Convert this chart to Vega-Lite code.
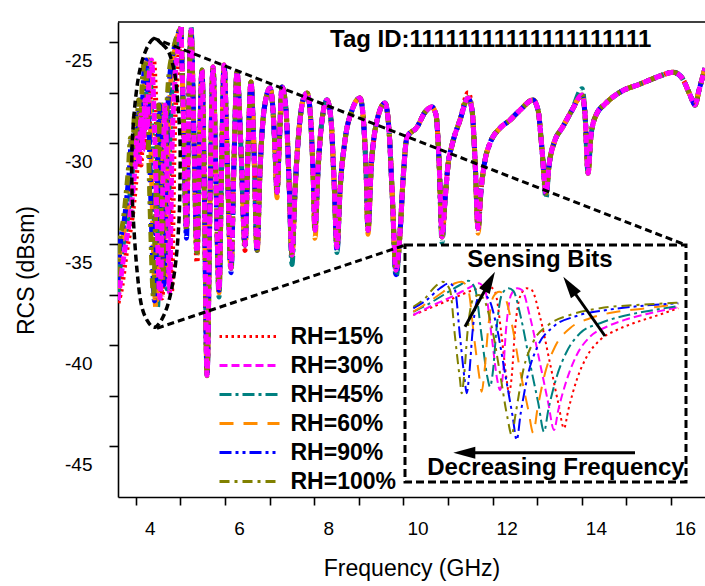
{
"$schema": "https://vega.github.io/schema/vega-lite/v6.json",
"width": 587, "height": 475,
"autosize": {"type": "none"},
"padding": {"left": 118, "top": 22, "right": 0, "bottom": 89},
"background": "white",
"config": {
 "view": {"stroke": null},
 "axis": {"grid": false, "domainColor": "#000", "domainWidth": 1.6, "tickColor": "#000", "tickWidth": 1.6, "labelColor": "#000", "labelFont": "Liberation Sans", "labelFontSize": 19, "titleFont": "Liberation Sans", "titleFontSize": 23, "titleFontWeight": "normal", "titleColor": "#000", "labelOverlap": false, "labelFlush": false},
 "axisX": {"tickSize": 8, "labelPadding": 14, "labelOffset": 14, "titleY": 60},
 "axisY": {"tickSize": 9, "labelPadding": 17, "labelOffset": 18, "titleX": -80, "titleY": 248},
 "legend": {"orient": "none", "legendX": 120, "legendY": 303, "direction": "vertical", "padding": 0, "symbolType": "M-5,0H5", "symbolSize": 144, "symbolStrokeWidth": 3, "labelFont": "Liberation Sans", "labelFontSize": 23, "labelFontWeight": "bold", "labelColor": "#000", "labelOffset": 29.5, "rowPadding": 5, "labelLimit": 0}
},
"datasets": {
 "ell": [
  {"s":"15","f":3.600,"r":-37.90},{"s":"15","f":3.690,"r":-37.02},{"s":"15","f":3.757,"r":-35.88},{"s":"15","f":3.824,"r":-34.89},{"s":"15","f":3.892,"r":-34.05},{"s":"15","f":3.936,"r":-33.31},{"s":"15","f":3.981,"r":-32.32},{"s":"15","f":4.026,"r":-31.23},{"s":"15","f":4.071,"r":-29.74},{"s":"15","f":4.116,"r":-31.08},{"s":"15","f":4.161,"r":-28.60},{"s":"15","f":4.206,"r":-30.34},{"s":"15","f":4.250,"r":-27.86},{"s":"15","f":4.295,"r":-29.35},{"s":"15","f":4.340,"r":-26.77},{"s":"15","f":4.396,"r":-25.88},{"s":"15","f":4.452,"r":-28.36},{"s":"15","f":4.519,"r":-33.80},{"s":"15","f":4.587,"r":-37.66},{"s":"15","f":4.643,"r":-32.81},{"s":"15","f":4.699,"r":-28.11},{"s":"15","f":4.755,"r":-32.81},{"s":"15","f":4.800,"r":-37.37},{"s":"15","f":4.856,"r":-30.34},{"s":"15","f":4.923,"r":-26.87},{"s":"15","f":4.975,"r":-25.29},{"s":"15","f":5.013,"r":-24.25},
  {"s":"30","f":3.600,"r":-37.76},{"s":"30","f":3.645,"r":-37.02},{"s":"30","f":3.712,"r":-35.88},{"s":"30","f":3.779,"r":-34.89},{"s":"30","f":3.847,"r":-34.05},{"s":"30","f":3.891,"r":-33.31},{"s":"30","f":3.936,"r":-32.32},{"s":"30","f":3.981,"r":-31.23},{"s":"30","f":4.026,"r":-29.74},{"s":"30","f":4.071,"r":-31.08},{"s":"30","f":4.116,"r":-28.60},{"s":"30","f":4.161,"r":-30.34},{"s":"30","f":4.205,"r":-27.86},{"s":"30","f":4.250,"r":-29.35},{"s":"30","f":4.295,"r":-26.77},{"s":"30","f":4.351,"r":-25.88},{"s":"30","f":4.407,"r":-28.36},{"s":"30","f":4.474,"r":-33.80},{"s":"30","f":4.542,"r":-37.66},{"s":"30","f":4.598,"r":-32.81},{"s":"30","f":4.654,"r":-28.11},{"s":"30","f":4.710,"r":-32.81},{"s":"30","f":4.755,"r":-37.37},{"s":"30","f":4.811,"r":-30.34},{"s":"30","f":4.878,"r":-26.87},{"s":"30","f":4.945,"r":-25.29},{"s":"30","f":5.013,"r":-24.25},
  {"s":"45","f":3.600,"r":-37.40},{"s":"45","f":3.656,"r":-35.88},{"s":"45","f":3.723,"r":-34.89},{"s":"45","f":3.791,"r":-34.05},{"s":"45","f":3.835,"r":-33.31},{"s":"45","f":3.880,"r":-32.32},{"s":"45","f":3.925,"r":-31.23},{"s":"45","f":3.970,"r":-29.74},{"s":"45","f":4.015,"r":-31.08},{"s":"45","f":4.060,"r":-28.60},{"s":"45","f":4.105,"r":-30.34},{"s":"45","f":4.149,"r":-27.86},{"s":"45","f":4.194,"r":-29.35},{"s":"45","f":4.239,"r":-26.77},{"s":"45","f":4.295,"r":-25.88},{"s":"45","f":4.351,"r":-28.36},{"s":"45","f":4.418,"r":-34.20},{"s":"45","f":4.486,"r":-38.10},{"s":"45","f":4.542,"r":-32.81},{"s":"45","f":4.598,"r":-28.11},{"s":"45","f":4.654,"r":-32.81},{"s":"45","f":4.699,"r":-37.20},{"s":"45","f":4.755,"r":-30.34},{"s":"45","f":4.822,"r":-26.87},{"s":"45","f":4.900,"r":-25.29},{"s":"45","f":5.013,"r":-24.25},
  {"s":"60","f":3.600,"r":-37.20},{"s":"60","f":3.622,"r":-35.88},{"s":"60","f":3.689,"r":-34.89},{"s":"60","f":3.757,"r":-34.05},{"s":"60","f":3.801,"r":-33.31},{"s":"60","f":3.846,"r":-32.32},{"s":"60","f":3.891,"r":-31.23},{"s":"60","f":3.936,"r":-29.74},{"s":"60","f":3.981,"r":-31.08},{"s":"60","f":4.026,"r":-28.60},{"s":"60","f":4.071,"r":-30.34},{"s":"60","f":4.115,"r":-27.86},{"s":"60","f":4.160,"r":-29.35},{"s":"60","f":4.205,"r":-26.77},{"s":"60","f":4.261,"r":-25.88},{"s":"60","f":4.317,"r":-28.36},{"s":"60","f":4.384,"r":-34.40},{"s":"60","f":4.452,"r":-38.20},{"s":"60","f":4.508,"r":-32.81},{"s":"60","f":4.564,"r":-28.11},{"s":"60","f":4.620,"r":-32.81},{"s":"60","f":4.665,"r":-37.00},{"s":"60","f":4.721,"r":-30.34},{"s":"60","f":4.788,"r":-26.87},{"s":"60","f":4.880,"r":-25.29},{"s":"60","f":5.013,"r":-24.25},
  {"s":"90","f":3.600,"r":-36.80},{"s":"90","f":3.656,"r":-34.89},{"s":"90","f":3.724,"r":-34.05},{"s":"90","f":3.768,"r":-33.31},{"s":"90","f":3.813,"r":-32.32},{"s":"90","f":3.858,"r":-31.23},{"s":"90","f":3.903,"r":-29.74},{"s":"90","f":3.948,"r":-31.08},{"s":"90","f":3.993,"r":-28.60},{"s":"90","f":4.038,"r":-30.34},{"s":"90","f":4.082,"r":-27.86},{"s":"90","f":4.127,"r":-29.35},{"s":"90","f":4.172,"r":-26.77},{"s":"90","f":4.228,"r":-25.88},{"s":"90","f":4.284,"r":-28.36},{"s":"90","f":4.351,"r":-34.00},{"s":"90","f":4.419,"r":-37.80},{"s":"90","f":4.475,"r":-32.81},{"s":"90","f":4.531,"r":-28.11},{"s":"90","f":4.587,"r":-32.81},{"s":"90","f":4.632,"r":-37.00},{"s":"90","f":4.688,"r":-30.34},{"s":"90","f":4.755,"r":-26.87},{"s":"90","f":4.860,"r":-25.29},{"s":"90","f":5.013,"r":-24.25},
  {"s":"100","f":3.600,"r":-36.60},{"s":"100","f":3.633,"r":-34.89},{"s":"100","f":3.701,"r":-34.05},{"s":"100","f":3.745,"r":-33.31},{"s":"100","f":3.790,"r":-32.32},{"s":"100","f":3.835,"r":-31.23},{"s":"100","f":3.880,"r":-29.74},{"s":"100","f":3.925,"r":-31.08},{"s":"100","f":3.970,"r":-28.60},{"s":"100","f":4.015,"r":-30.34},{"s":"100","f":4.059,"r":-27.86},{"s":"100","f":4.104,"r":-29.35},{"s":"100","f":4.149,"r":-26.77},{"s":"100","f":4.205,"r":-25.88},{"s":"100","f":4.261,"r":-28.36},{"s":"100","f":4.328,"r":-33.80},{"s":"100","f":4.396,"r":-37.60},{"s":"100","f":4.452,"r":-32.81},{"s":"100","f":4.508,"r":-28.11},{"s":"100","f":4.564,"r":-32.81},{"s":"100","f":4.609,"r":-36.80},{"s":"100","f":4.665,"r":-30.34},{"s":"100","f":4.732,"r":-26.87},{"s":"100","f":4.850,"r":-25.29},{"s":"100","f":5.013,"r":-24.25}
 ],
 "main": [
  {"f":5.013,"15":-24.25,"30":-24.25,"45":-24.25,"60":-24.25,"90":-24.25,"100":-24.25},
  {"f":5.069,"15":-28.85,"30":-28.85,"45":-28.85,"60":-28.85,"90":-28.85,"100":-28.85},
  {"f":5.136,"15":-34.1,"30":-34.2,"45":-34.3,"60":-34.2,"90":-34.7,"100":-34.3},
  {"f":5.181,"15":-28.85,"30":-28.85,"45":-28.85,"60":-28.85,"90":-28.85,"100":-28.85},
  {"f":5.237,"15":-24.40,"30":-24.40,"45":-24.25,"60":-24.40,"90":-24.40,"100":-24.40},
  {"f":5.304,"15":-29.84,"30":-29.84,"45":-29.84,"60":-29.84,"90":-29.84,"100":-29.84},
  {"f":5.371,"15":-35.9,"30":-35.39,"45":-35.39,"60":-35.5,"90":-35.39,"100":-35.39},
  {"f":5.427,"15":-30.34,"30":-30.34,"45":-30.34,"60":-30.34,"90":-30.34,"100":-30.34},
  {"f":5.483,"15":-26.38,"30":-26.38,"45":-26.38,"60":-26.38,"90":-26.38,"100":-26.38},
  {"f":5.539,"15":-32.81,"30":-32.81,"45":-32.81,"60":-32.81,"90":-32.81,"100":-32.81},
  {"f":5.596,"15":-41.2,"30":-41.48,"45":-41.3,"60":-41.4,"90":-41.5,"100":-41.5},
  {"f":5.663,"15":-32.81,"30":-32.81,"45":-32.81,"60":-32.81,"90":-32.81,"100":-32.81},
  {"f":5.730,"15":-26.23,"30":-26.23,"45":-26.23,"60":-26.23,"90":-26.23,"100":-26.23},
  {"f":5.797,"15":-31.82,"30":-31.82,"45":-31.82,"60":-31.82,"90":-31.82,"100":-31.82},
  {"f":5.865,"15":-37.27,"30":-37.27,"45":-37.6,"60":-37.4,"90":-37.27,"100":-37.27},
  {"f":5.921,"15":-31.33,"30":-31.33,"45":-31.33,"60":-31.33,"90":-31.33,"100":-31.33},
  {"f":5.977,"15":-26.13,"30":-26.13,"45":-26.13,"60":-26.13,"90":-26.13,"100":-26.13},
  {"f":6.055,"15":-31.33,"30":-31.33,"45":-31.33,"60":-31.33,"90":-31.33,"100":-31.33},
  {"f":6.134,"15":-36.18,"30":-36.18,"45":-36.18,"60":-36.18,"90":-36.4,"100":-36.18},
  {"f":6.201,"15":-30.83,"30":-30.83,"45":-30.83,"60":-30.83,"90":-30.83,"100":-30.83},
  {"f":6.268,"15":-26.48,"30":-26.48,"45":-26.48,"60":-26.48,"90":-26.48,"100":-26.48},
  {"f":6.358,"15":-30.34,"30":-30.34,"45":-30.34,"60":-30.34,"90":-30.34,"100":-30.34},
  {"f":6.448,"15":-35.3,"30":-35.04,"45":-35.04,"60":-35.04,"90":-35.04,"100":-35.04},
  {"f":6.515,"15":-30.34,"30":-30.34,"45":-30.34,"60":-30.34,"90":-30.34,"100":-30.34},
  {"f":6.582,"15":-26.97,"30":-26.97,"45":-26.97,"60":-26.97,"90":-26.97,"100":-26.97},
  {"f":6.649,"15":-30.34,"30":-30.34,"45":-30.34,"60":-30.34,"90":-30.34,"100":-30.34},
  {"f":6.717,"15":-35.29,"30":-35.29,"45":-35.29,"60":-35.5,"90":-35.29,"100":-35.29},
  {"f":6.784,"15":-31.33,"30":-31.33,"45":-31.33,"60":-31.33,"90":-31.33,"100":-31.33},
  {"f":6.874,"15":-28.36,"30":-28.36,"45":-28.36,"60":-28.36,"90":-28.36,"100":-28.36},
  {"f":7.008,"15":-27.27,"30":-27.27,"45":-27.27,"60":-27.27,"90":-27.27,"100":-27.27},
  {"f":7.075,"15":-28.36,"30":-28.36,"45":-28.36,"60":-28.36,"90":-28.36,"100":-28.36},
  {"f":7.120,"15":-30.34,"30":-30.34,"45":-30.34,"60":-30.34,"90":-30.34,"100":-30.34},
  {"f":7.165,"15":-32.42,"30":-32.42,"45":-32.42,"60":-32.7,"90":-32.42,"100":-32.42},
  {"f":7.210,"15":-30.34,"30":-30.34,"45":-30.34,"60":-30.34,"90":-30.34,"100":-30.34},
  {"f":7.277,"15":-27.22,"30":-27.22,"45":-27.22,"60":-27.22,"90":-27.22,"100":-27.22},
  {"f":7.367,"15":-28.36,"30":-28.36,"45":-28.36,"60":-28.36,"90":-28.36,"100":-28.36},
  {"f":7.434,"15":-31.82,"30":-31.82,"45":-31.82,"60":-31.82,"90":-31.82,"100":-31.82},
  {"f":7.501,"15":-35.53,"30":-35.53,"45":-36.0,"60":-35.53,"90":-35.53,"100":-35.53},
  {"f":7.569,"15":-32.32,"30":-32.32,"45":-32.32,"60":-32.32,"90":-32.32,"100":-32.32},
  {"f":7.658,"15":-29.35,"30":-29.35,"45":-29.35,"60":-29.35,"90":-29.35,"100":-29.35},
  {"f":7.748,"15":-27.86,"30":-27.86,"45":-27.86,"60":-27.86,"90":-27.86,"100":-27.86},
  {"f":7.838,"15":-27.51,"30":-27.51,"45":-27.51,"60":-27.51,"90":-27.51,"100":-27.51},
  {"f":7.905,"15":-28.36,"30":-28.36,"45":-28.36,"60":-28.36,"90":-28.36,"100":-28.36},
  {"f":7.972,"15":-31.33,"30":-31.33,"45":-31.33,"60":-31.33,"90":-31.33,"100":-31.33},
  {"f":8.017,"15":-34.30,"30":-34.30,"45":-34.30,"60":-34.7,"90":-34.30,"100":-34.30},
  {"f":8.084,"15":-31.33,"30":-31.33,"45":-31.33,"60":-31.33,"90":-31.33,"100":-31.33},
  {"f":8.174,"15":-28.85,"30":-28.85,"45":-28.85,"60":-28.85,"90":-28.85,"100":-28.85},
  {"f":8.286,"15":-27.86,"30":-27.86,"45":-27.86,"60":-27.86,"90":-27.86,"100":-27.86},
  {"f":8.376,"15":-28.85,"30":-28.85,"45":-28.85,"60":-28.85,"90":-28.85,"100":-28.85},
  {"f":8.443,"15":-31.82,"30":-31.82,"45":-31.82,"60":-31.82,"90":-31.82,"100":-31.82},
  {"f":8.510,"15":-35.14,"30":-35.14,"45":-35.4,"60":-35.14,"90":-35.3,"100":-35.14},
  {"f":8.578,"15":-32.32,"30":-32.32,"45":-32.32,"60":-32.32,"90":-32.32,"100":-32.32},
  {"f":8.690,"15":-29.84,"30":-29.84,"45":-29.84,"60":-29.84,"90":-29.84,"100":-29.84},
  {"f":8.847,"15":-28.36,"30":-28.36,"45":-28.36,"60":-28.36,"90":-28.36,"100":-28.36},
  {"f":9.026,"15":-27.76,"30":-27.76,"45":-27.76,"60":-27.76,"90":-27.76,"100":-27.76},
  {"f":9.093,"15":-28.60,"30":-28.60,"45":-28.60,"60":-28.60,"90":-28.60,"100":-28.60},
  {"f":9.161,"15":-31.33,"30":-31.33,"45":-31.33,"60":-31.33,"90":-31.33,"100":-31.33},
  {"f":9.205,"15":-34.30,"30":-34.30,"45":-34.30,"60":-34.5,"90":-34.30,"100":-34.30},
  {"f":9.273,"15":-31.33,"30":-31.33,"45":-31.33,"60":-31.33,"90":-31.33,"100":-31.33},
  {"f":9.385,"15":-29.10,"30":-29.10,"45":-29.10,"60":-29.10,"90":-29.10,"100":-29.10},
  {"f":9.587,"15":-28.01,"30":-28.01,"45":-28.01,"60":-28.01,"90":-28.01,"100":-28.01},
  {"f":9.676,"15":-29.35,"30":-29.35,"45":-29.35,"60":-29.35,"90":-29.35,"100":-29.35},
  {"f":9.744,"15":-32.32,"30":-32.32,"45":-32.32,"60":-32.32,"90":-32.32,"100":-32.32},
  {"f":9.833,"15":-36.28,"30":-36.28,"45":-36.6,"60":-36.28,"90":-36.5,"100":-36.28},
  {"f":9.923,"15":-34.45,"30":-34.45,"45":-34.45,"60":-34.45,"90":-34.45,"100":-34.45},
  {"f":9.990,"15":-31.82,"30":-31.82,"45":-31.82,"60":-31.82,"90":-31.82,"100":-31.82},
  {"f":10.080,"15":-29.69,"30":-29.69,"45":-29.69,"60":-29.69,"90":-29.69,"100":-29.69},
  {"f":10.304,"15":-29.20,"30":-29.20,"45":-29.20,"60":-29.20,"90":-29.20,"100":-29.20},
  {"f":10.483,"15":-28.46,"30":-28.46,"45":-28.46,"60":-28.46,"90":-28.46,"100":-28.46},
  {"f":10.640,"15":-28.21,"30":-28.21,"45":-28.21,"60":-28.21,"90":-28.21,"100":-28.21},
  {"f":10.730,"15":-28.60,"30":-28.60,"45":-28.60,"60":-28.60,"90":-28.60,"100":-28.60},
  {"f":10.797,"15":-30.83,"30":-30.83,"45":-30.83,"60":-30.83,"90":-30.83,"100":-30.83},
  {"f":10.865,"15":-34.64,"30":-34.64,"45":-34.9,"60":-34.64,"90":-34.64,"100":-34.64},
  {"f":10.932,"15":-32.81,"30":-32.81,"45":-32.81,"60":-32.81,"90":-32.81,"100":-32.81},
  {"f":10.999,"15":-31.08,"30":-31.08,"45":-31.08,"60":-31.08,"90":-31.08,"100":-31.08},
  {"f":11.089,"15":-30.09,"30":-30.09,"45":-30.09,"60":-30.09,"90":-30.09,"100":-30.09},
  {"f":11.268,"15":-28.85,"30":-28.85,"45":-28.85,"60":-28.85,"90":-28.85,"100":-28.85},
  {"f":11.448,"15":-27.5,"30":-27.76,"45":-27.76,"60":-27.76,"90":-27.76,"100":-27.76},
  {"f":11.537,"15":-28.36,"30":-28.36,"45":-28.36,"60":-28.36,"90":-28.36,"100":-28.36},
  {"f":11.605,"15":-30.83,"30":-30.83,"45":-30.83,"60":-30.83,"90":-30.83,"100":-30.83},
  {"f":11.672,"15":-34.20,"30":-34.20,"45":-34.20,"60":-34.45,"90":-34.20,"100":-34.20},
  {"f":11.739,"15":-32.32,"30":-32.32,"45":-32.32,"60":-32.32,"90":-32.32,"100":-32.32},
  {"f":11.829,"15":-30.83,"30":-30.83,"45":-30.83,"60":-30.83,"90":-30.83,"100":-30.83},
  {"f":11.941,"15":-29.99,"30":-29.99,"45":-29.99,"60":-29.99,"90":-29.99,"100":-29.99},
  {"f":12.165,"15":-29.25,"30":-29.25,"45":-29.25,"60":-29.25,"90":-29.25,"100":-29.25},
  {"f":12.389,"15":-28.85,"30":-28.85,"45":-28.85,"60":-28.85,"90":-28.85,"100":-28.85},
  {"f":12.613,"15":-28.36,"30":-28.36,"45":-28.36,"60":-28.36,"90":-28.36,"100":-28.36},
  {"f":12.905,"15":-27.86,"30":-27.86,"45":-27.86,"60":-27.86,"90":-27.86,"100":-27.86},
  {"f":13.017,"15":-28.36,"30":-28.36,"45":-28.36,"60":-28.36,"90":-28.36,"100":-28.36},
  {"f":13.107,"15":-30.34,"30":-30.34,"45":-30.34,"60":-30.34,"90":-30.34,"100":-30.34},
  {"f":13.196,"15":-32.47,"30":-32.47,"45":-32.7,"60":-32.47,"90":-32.47,"100":-32.47},
  {"f":13.264,"15":-31.08,"30":-31.08,"45":-31.08,"60":-31.08,"90":-31.08,"100":-31.08},
  {"f":13.398,"15":-29.84,"30":-29.84,"45":-29.84,"60":-29.84,"90":-29.84,"100":-29.84},
  {"f":13.555,"15":-29.25,"30":-29.25,"45":-29.25,"60":-29.25,"90":-29.25,"100":-29.25},
  {"f":13.779,"15":-28.36,"30":-28.36,"45":-28.36,"60":-28.36,"90":-28.36,"100":-28.36},
  {"f":14.004,"15":-27.61,"30":-27.61,"45":-27.3,"60":-27.61,"90":-27.61,"100":-27.61},
  {"f":14.071,"15":-28.60,"30":-28.60,"45":-28.60,"60":-28.60,"90":-28.60,"100":-28.60},
  {"f":14.138,"15":-31.48,"30":-31.48,"45":-31.48,"60":-31.48,"90":-31.2,"100":-31.48},
  {"f":14.205,"15":-29.59,"30":-29.59,"45":-29.59,"60":-29.59,"90":-29.59,"100":-29.59},
  {"f":14.318,"15":-28.60,"30":-28.60,"45":-28.60,"60":-28.60,"90":-28.60,"100":-28.60},
  {"f":14.519,"15":-28.06,"30":-28.06,"45":-28.06,"60":-28.06,"90":-28.06,"100":-28.06},
  {"f":14.856,"15":-27.47,"30":-27.47,"45":-27.47,"60":-27.47,"90":-27.47,"100":-27.47},
  {"f":15.304,"15":-27.07,"30":-27.07,"45":-27.07,"60":-27.07,"90":-27.07,"100":-27.07},
  {"f":15.753,"15":-26.67,"30":-26.67,"45":-26.67,"60":-26.67,"90":-26.67,"100":-26.67},
  {"f":16.044,"15":-26.48,"30":-26.48,"45":-26.48,"60":-26.48,"90":-26.48,"100":-26.48},
  {"f":16.246,"15":-26.77,"30":-26.77,"45":-26.77,"60":-26.77,"90":-26.77,"100":-26.77},
  {"f":16.425,"15":-27.61,"30":-27.61,"45":-27.61,"60":-27.61,"90":-27.61,"100":-27.61},
  {"f":16.537,"15":-28.11,"30":-28.11,"45":-28.11,"60":-28.11,"90":-28.11,"100":-28.11},
  {"f":16.627,"15":-27.37,"30":-27.37,"45":-27.37,"60":-27.37,"90":-27.37,"100":-27.37},
  {"f":16.761,"15":-26.28,"30":-26.28,"45":-26.28,"60":-26.28,"90":-26.28,"100":-26.28}
 ],
 "inset": [
  {"s":"15","f":3.8083,"r":-32.80},{"s":"15","f":3.8283,"r":-32.47},{"s":"15","f":3.8483,"r":-32.13},{"s":"15","f":3.8683,"r":-31.80},{"s":"15","f":3.8833,"r":-31.64},{"s":"15","f":3.8900,"r":-31.87},{"s":"15","f":3.8967,"r":-33.67},{"s":"15","f":3.9017,"r":-35.40},{"s":"15","f":3.9040,"r":-35.93},{"s":"15","f":3.9067,"r":-35.27},{"s":"15","f":3.9100,"r":-33.40},{"s":"15","f":3.9150,"r":-32.07},{"s":"15","f":3.9217,"r":-31.73},{"s":"15","f":3.9267,"r":-31.80},{"s":"15","f":3.9350,"r":-32.87},{"s":"15","f":3.9450,"r":-34.73},{"s":"15","f":3.9533,"r":-36.33},{"s":"15","f":3.9590,"r":-37.33},{"s":"15","f":3.9633,"r":-36.60},{"s":"15","f":3.9717,"r":-35.40},{"s":"15","f":3.9817,"r":-34.47},{"s":"15","f":3.9950,"r":-33.80},{"s":"15","f":4.0117,"r":-33.40},{"s":"15","f":4.0283,"r":-33.13},{"s":"15","f":4.0483,"r":-32.87},{"s":"15","f":4.0733,"r":-32.53},
  {"s":"30","f":3.8083,"r":-32.80},{"s":"30","f":3.8283,"r":-32.40},{"s":"30","f":3.8483,"r":-32.04},{"s":"30","f":3.8650,"r":-31.69},{"s":"30","f":3.8733,"r":-31.53},{"s":"30","f":3.8800,"r":-31.80},{"s":"30","f":3.8867,"r":-33.67},{"s":"30","f":3.8923,"r":-35.40},{"s":"30","f":3.8950,"r":-35.80},{"s":"30","f":3.8977,"r":-35.27},{"s":"30","f":3.9010,"r":-33.40},{"s":"30","f":3.9060,"r":-32.00},{"s":"30","f":3.9123,"r":-31.73},{"s":"30","f":3.9170,"r":-31.80},{"s":"30","f":3.9250,"r":-32.87},{"s":"30","f":3.9350,"r":-34.73},{"s":"30","f":3.9433,"r":-36.33},{"s":"30","f":3.9490,"r":-37.40},{"s":"30","f":3.9533,"r":-36.60},{"s":"30","f":3.9617,"r":-35.40},{"s":"30","f":3.9717,"r":-34.40},{"s":"30","f":3.9850,"r":-33.67},{"s":"30","f":4.0017,"r":-33.27},{"s":"30","f":4.0217,"r":-32.97},{"s":"30","f":4.0450,"r":-32.73},{"s":"30","f":4.0733,"r":-32.49},
  {"s":"45","f":3.8083,"r":-32.67},{"s":"45","f":3.8217,"r":-32.40},{"s":"45","f":3.8383,"r":-32.00},{"s":"45","f":3.8550,"r":-31.60},{"s":"45","f":3.8633,"r":-31.43},{"s":"45","f":3.8700,"r":-31.73},{"s":"45","f":3.8767,"r":-33.67},{"s":"45","f":3.8823,"r":-35.27},{"s":"45","f":3.8850,"r":-35.67},{"s":"45","f":3.8877,"r":-35.13},{"s":"45","f":3.8917,"r":-33.27},{"s":"45","f":3.8967,"r":-32.00},{"s":"45","f":3.9033,"r":-31.73},{"s":"45","f":3.9083,"r":-31.83},{"s":"45","f":3.9157,"r":-32.87},{"s":"45","f":3.9250,"r":-34.73},{"s":"45","f":3.9333,"r":-36.33},{"s":"45","f":3.9390,"r":-37.47},{"s":"45","f":3.9433,"r":-36.60},{"s":"45","f":3.9517,"r":-35.27},{"s":"45","f":3.9617,"r":-34.27},{"s":"45","f":3.9750,"r":-33.53},{"s":"45","f":3.9950,"r":-33.13},{"s":"45","f":4.0183,"r":-32.84},{"s":"45","f":4.0450,"r":-32.63},{"s":"45","f":4.0733,"r":-32.44},
  {"s":"60","f":3.8083,"r":-32.67},{"s":"60","f":3.8217,"r":-32.33},{"s":"60","f":3.8383,"r":-31.87},{"s":"60","f":3.8500,"r":-31.53},{"s":"60","f":3.8567,"r":-31.47},{"s":"60","f":3.8633,"r":-31.80},{"s":"60","f":3.8690,"r":-33.67},{"s":"60","f":3.8743,"r":-35.27},{"s":"60","f":3.8767,"r":-35.87},{"s":"60","f":3.8793,"r":-35.13},{"s":"60","f":3.8833,"r":-33.27},{"s":"60","f":3.8883,"r":-32.07},{"s":"60","f":3.8943,"r":-31.87},{"s":"60","f":3.8990,"r":-32.00},{"s":"60","f":3.9067,"r":-33.13},{"s":"60","f":3.9150,"r":-35.00},{"s":"60","f":3.9233,"r":-36.60},{"s":"60","f":3.9283,"r":-37.53},{"s":"60","f":3.9323,"r":-36.60},{"s":"60","f":3.9400,"r":-35.13},{"s":"60","f":3.9500,"r":-34.07},{"s":"60","f":3.9650,"r":-33.33},{"s":"60","f":3.9850,"r":-32.93},{"s":"60","f":4.0117,"r":-32.67},{"s":"60","f":4.0417,"r":-32.53},{"s":"60","f":4.0733,"r":-32.36},
  {"s":"90","f":3.8083,"r":-32.53},{"s":"90","f":3.8217,"r":-32.20},{"s":"90","f":3.8350,"r":-31.73},{"s":"90","f":3.8443,"r":-31.53},{"s":"90","f":3.8500,"r":-31.80},{"s":"90","f":3.8550,"r":-33.67},{"s":"90","f":3.8597,"r":-35.40},{"s":"90","f":3.8617,"r":-35.93},{"s":"90","f":3.8640,"r":-35.27},{"s":"90","f":3.8677,"r":-33.40},{"s":"90","f":3.8723,"r":-32.20},{"s":"90","f":3.8783,"r":-32.00},{"s":"90","f":3.8833,"r":-32.13},{"s":"90","f":3.8917,"r":-33.27},{"s":"90","f":3.9000,"r":-35.13},{"s":"90","f":3.9077,"r":-36.87},{"s":"90","f":3.9117,"r":-37.80},{"s":"90","f":3.9157,"r":-36.73},{"s":"90","f":3.9233,"r":-35.13},{"s":"90","f":3.9333,"r":-34.00},{"s":"90","f":3.9483,"r":-33.27},{"s":"90","f":3.9717,"r":-32.84},{"s":"90","f":4.0017,"r":-32.60},{"s":"90","f":4.0350,"r":-32.44},{"s":"90","f":4.0733,"r":-32.33},
  {"s":"100","f":3.8083,"r":-32.47},{"s":"100","f":3.8200,"r":-32.13},{"s":"100","f":3.8300,"r":-31.67},{"s":"100","f":3.8377,"r":-31.47},{"s":"100","f":3.8450,"r":-31.80},{"s":"100","f":3.8500,"r":-33.67},{"s":"100","f":3.8550,"r":-35.40},{"s":"100","f":3.8567,"r":-35.93},{"s":"100","f":3.8590,"r":-35.27},{"s":"100","f":3.8627,"r":-33.40},{"s":"100","f":3.8677,"r":-32.20},{"s":"100","f":3.8737,"r":-32.00},{"s":"100","f":3.8783,"r":-32.13},{"s":"100","f":3.8867,"r":-33.27},{"s":"100","f":3.8950,"r":-35.13},{"s":"100","f":3.9023,"r":-36.87},{"s":"100","f":3.9067,"r":-37.60},{"s":"100","f":3.9107,"r":-36.73},{"s":"100","f":3.9183,"r":-35.00},{"s":"100","f":3.9283,"r":-33.87},{"s":"100","f":3.9433,"r":-33.20},{"s":"100","f":3.9650,"r":-32.80},{"s":"100","f":3.9950,"r":-32.53},{"s":"100","f":4.0317,"r":-32.40},{"s":"100","f":4.0733,"r":-32.31}
 ],
 "ellipse": [
  {"i":0,"f":4.385,"r":-24.84},{"i":1,"f":4.587,"r":-25.09},{"i":2,"f":4.744,"r":-25.53},{"i":3,"f":4.878,"r":-26.62},{"i":4,"f":4.945,"r":-28.11},{"i":5,"f":4.990,"r":-29.84},{"i":6,"f":4.990,"r":-31.82},{"i":7,"f":4.968,"r":-33.80},{"i":8,"f":4.900,"r":-35.78},{"i":9,"f":4.788,"r":-37.37},{"i":10,"f":4.631,"r":-38.50},{"i":11,"f":4.430,"r":-39.10},{"i":12,"f":4.250,"r":-38.75},{"i":13,"f":4.116,"r":-37.91},{"i":14,"f":4.026,"r":-36.28},{"i":15,"f":3.959,"r":-34.30},{"i":16,"f":3.914,"r":-32.32},{"i":17,"f":3.914,"r":-30.34},{"i":18,"f":3.959,"r":-28.60},{"i":19,"f":4.048,"r":-26.87},{"i":20,"f":4.183,"r":-25.63}
 ],
 "conn": [
  {"f":4.385,"r":-24.79,"f2":16.335,"r2":-35.04},
  {"f":4.474,"r":-39.15,"f2":10.035,"r2":-35.04}
 ],
 "notes": [{"f":8.353,"r":-25.22,"t":"Tag ID:11111111111111111111"}],
 "box": [{"f":3.8,"f2":4.081,"r":-30,"r2":-39.48}],
 "inotes": [{"f":3.935,"r":-30.87,"t":"Sensing Bits"},{"f":3.951,"r":-39.2,"t":"Decreasing Frequency"}],
 "arrows": [
  {"a":1,"f":4.030,"r":-38.31,"f2":3.8593,"r2":-38.31},
  {"a":2,"f":3.860,"r":-33.27,"f2":3.8847,"r2":-31.46},
  {"a":3,"f":4.000,"r":-33.64,"f2":3.9646,"r2":-31.63}
 ]
},
"layer": [
 {"layer": [
  {"data": {"name": "ell"}, "transform": [{"filter": "datum.s != '30'"}],
   "mark": {"type": "line", "strokeWidth": 5, "interpolate": "monotone", "clip": true},
   "encoding": {
    "x": {"field": "f", "type": "quantitative", "title": "Frequency (GHz)", "scale": {"domain": [3.6, 16.76], "nice": false, "zero": false}, "axis": {"values": [4,5,6,7,8,9,10,11,12,13,14,15,16], "labelExpr": "datum.value % 2 == 0 ? '' + datum.value : ''"}},
    "y": {"field": "r", "type": "quantitative", "title": "RCS (dBsm)", "scale": {"domain": [-47.5, -24], "nice": false, "zero": false}, "axis": {"values": [-45,-42.5,-40,-37.5,-35,-32.5,-30,-27.5,-25], "labelExpr": "datum.value % 5 == 0 ? '' + datum.value : ''"}},
    "color": {"field": "s", "type": "nominal", "title": null, "scale": {"domain": ["15","30","45","60","90","100"], "range": ["#ff0000","#ff00ff","#008080","#ff8c00","#0000ff","#808000"]}, "legend": {"labelExpr": "'RH=' + datum.label + '%'"}},
    "strokeDash": {"field": "s", "type": "nominal", "title": null, "scale": {"domain": ["15","30","45","60","90","100"], "range": [[2.5,3.5],[8,4],[12,4,3,4],[14,10],[12,4,3,4,3,4],[10,5,3,5]]}, "legend": {"labelExpr": "'RH=' + datum.label + '%'"}}
   }},
  {"data": {"name": "main"}, "transform": [{"fold": ["15","45","60","90","100"], "as": ["s","r"]}],
   "mark": {"type": "line", "strokeWidth": 5, "interpolate": "monotone", "clip": true},
   "encoding": {
    "x": {"field": "f", "type": "quantitative", "title": "Frequency (GHz)"},
    "y": {"field": "r", "type": "quantitative", "title": "RCS (dBsm)"},
    "color": {"field": "s", "type": "nominal", "title": null},
    "strokeDash": {"field": "s", "type": "nominal", "title": null}
   }},
  {"data": {"name": "ell"}, "transform": [{"filter": "datum.s == '30'"}],
   "mark": {"type": "line", "strokeWidth": 5, "interpolate": "monotone", "clip": true},
   "encoding": {
    "x": {"field": "f", "type": "quantitative", "title": "Frequency (GHz)"},
    "y": {"field": "r", "type": "quantitative", "title": "RCS (dBsm)"},
    "color": {"field": "s", "type": "nominal", "title": null},
    "strokeDash": {"field": "s", "type": "nominal", "title": null}
   }},
  {"data": {"name": "main"}, "transform": [{"fold": ["30"], "as": ["s","r"]}],
   "mark": {"type": "line", "strokeWidth": 5, "interpolate": "monotone", "clip": true},
   "encoding": {
    "x": {"field": "f", "type": "quantitative", "title": "Frequency (GHz)"},
    "y": {"field": "r", "type": "quantitative", "title": "RCS (dBsm)"},
    "color": {"field": "s", "type": "nominal", "title": null},
    "strokeDash": {"field": "s", "type": "nominal", "title": null}
   }},
  {"data": {"name": "ellipse"},
   "mark": {"type": "line", "interpolate": "cardinal-closed", "stroke": "#000", "strokeWidth": 3.5, "strokeDash": [7,4]},
   "encoding": {
    "x": {"field": "f", "type": "quantitative", "title": "Frequency (GHz)"},
    "y": {"field": "r", "type": "quantitative", "title": "RCS (dBsm)"},
    "order": {"field": "i", "type": "quantitative"}
   }},
  {"data": {"name": "conn"},
   "mark": {"type": "rule", "stroke": "#000", "strokeWidth": 3, "strokeDash": [7,4]},
   "encoding": {
    "x": {"field": "f", "type": "quantitative", "title": "Frequency (GHz)"},
    "y": {"field": "r", "type": "quantitative", "title": "RCS (dBsm)"},
    "x2": {"field": "f2"},
    "y2": {"field": "r2"}
   }},
  {"data": {"values": [{}]},
   "mark": {"type": "rule", "stroke": "#000", "strokeWidth": 1.6},
   "encoding": {"y": {"datum": -24, "type": "quantitative"}}},
  {"data": {"name": "notes"},
   "mark": {"type": "text", "align": "left", "baseline": "alphabetic", "font": "Liberation Sans", "fontSize": 24, "fontWeight": "bold", "color": "#000"},
   "encoding": {
    "x": {"field": "f", "type": "quantitative", "title": "Frequency (GHz)"},
    "y": {"field": "r", "type": "quantitative", "title": "RCS (dBsm)"},
    "text": {"field": "t"}
   }}
 ]},
 {"layer": [
  {"data": {"name": "box"},
   "mark": {"type": "rect", "fillOpacity": 0, "stroke": "#000", "strokeWidth": 3, "strokeDash": [8,4]},
   "encoding": {
    "x": {"field": "f", "type": "quantitative", "scale": {"domain": [3.513, 4.1], "nice": false, "zero": false}, "axis": null},
    "x2": {"field": "f2"},
    "y": {"field": "r", "type": "quantitative", "scale": {"domain": [-40.08, -21.08], "nice": false, "zero": false}, "axis": null},
    "y2": {"field": "r2"}
   }},
  {"data": {"name": "inset"},
   "mark": {"type": "line", "strokeWidth": 2, "interpolate": "monotone"},
   "encoding": {
    "x": {"field": "f", "type": "quantitative", "axis": null},
    "y": {"field": "r", "type": "quantitative", "axis": null},
    "color": {"field": "s", "type": "nominal", "title": null},
    "strokeDash": {"field": "s", "type": "nominal", "title": null}
   }},
  {"data": {"name": "inotes"},
   "mark": {"type": "text", "align": "center", "baseline": "alphabetic", "font": "Liberation Sans", "fontSize": 24, "fontWeight": "bold", "color": "#000"},
   "encoding": {
    "x": {"field": "f", "type": "quantitative", "axis": null},
    "y": {"field": "r", "type": "quantitative", "axis": null},
    "text": {"field": "t"}
   }},
  {"data": {"name": "arrows"},
   "mark": {"type": "rule", "stroke": "#000", "strokeWidth": 3},
   "encoding": {
    "x": {"field": "f", "type": "quantitative", "axis": null},
    "y": {"field": "r", "type": "quantitative", "axis": null},
    "x2": {"field": "f2"},
    "y2": {"field": "r2"}
   }},
  {"data": {"name": "arrows"}, "transform": [{"filter": "datum.a == 1"}],
   "mark": {"type": "point", "shape": "M0,-1L0.55,1L-0.55,1Z", "size": 484, "filled": true, "color": "#000", "opacity": 1, "angle": -90},
   "encoding": {
    "x": {"field": "f2", "type": "quantitative", "axis": null},
    "y": {"field": "r2", "type": "quantitative", "axis": null}
   }},
  {"data": {"name": "arrows"}, "transform": [{"filter": "datum.a == 2"}],
   "mark": {"type": "point", "shape": "M0,-1L0.55,1L-0.55,1Z", "size": 484, "filled": true, "color": "#000", "opacity": 1, "angle": 28.6},
   "encoding": {
    "x": {"field": "f2", "type": "quantitative", "axis": null},
    "y": {"field": "r2", "type": "quantitative", "axis": null}
   }},
  {"data": {"name": "arrows"}, "transform": [{"filter": "datum.a == 3"}],
   "mark": {"type": "point", "shape": "M0,-1L0.55,1L-0.55,1Z", "size": 484, "filled": true, "color": "#000", "opacity": 1, "angle": -35.1},
   "encoding": {
    "x": {"field": "f2", "type": "quantitative", "axis": null},
    "y": {"field": "r2", "type": "quantitative", "axis": null}
   }}
 ]}
],
"resolve": {"scale": {"x": "independent", "y": "independent"}}
}
